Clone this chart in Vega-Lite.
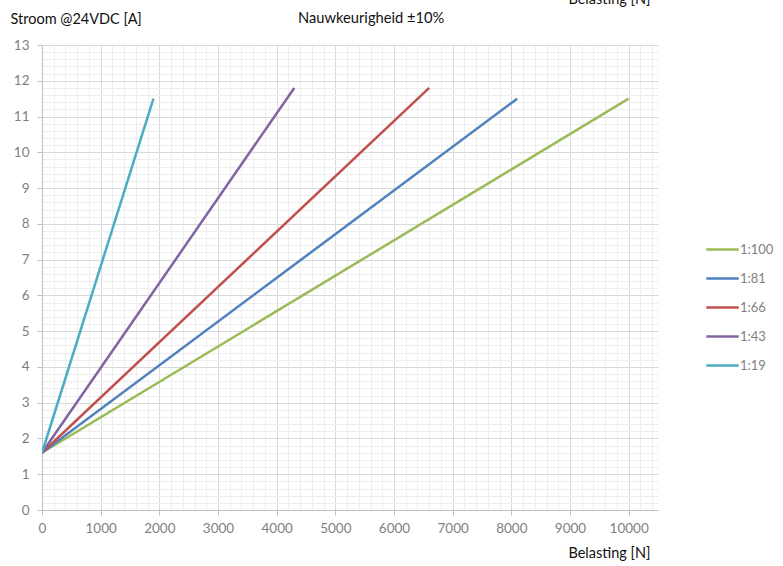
{
  "$schema": "https://vega.github.io/schema/vega-lite/v6.json",
  "autosize": "none",
  "width": 616,
  "height": 465,
  "padding": {"left": 42, "top": 45, "right": 125, "bottom": 56},
  "background": "white",
  "config": {
    "view": {"stroke": null},
    "font": "Lato",
    "axis": {"labelFont": "Lato", "titleFont": "Lato"}
  },
  "title": {
    "text": "Nauwkeurigheid ±10%",
    "anchor": "start",
    "frame": "group",
    "dx": 256,
    "dy": 47,
    "offset": 0,
    "baseline": "alphabetic",
    "font": "Lato",
    "fontSize": 14.7,
    "fontWeight": "normal",
    "color": "#111111"
  },
  "data": {
    "values": [
      {"ratio": "1:100", "F": 0, "I": 1.6},
      {"ratio": "1:100", "F": 10000, "I": 11.5},
      {"ratio": "1:81", "F": 0, "I": 1.6},
      {"ratio": "1:81", "F": 8100, "I": 11.5},
      {"ratio": "1:66", "F": 0, "I": 1.6},
      {"ratio": "1:66", "F": 6600, "I": 11.8},
      {"ratio": "1:43", "F": 0, "I": 1.6},
      {"ratio": "1:43", "F": 4300, "I": 11.8},
      {"ratio": "1:19", "F": 0, "I": 1.6},
      {"ratio": "1:19", "F": 1900, "I": 11.5}
    ]
  },
  "resolve": {"axis": {"x": "independent"}},
  "layer": [
    {
      "mark": {"type": "line", "strokeWidth": 2.5, "clip": true},
      "encoding": {
        "x": {
          "field": "F",
          "type": "quantitative",
          "scale": {"domain": [0, 10500], "nice": false, "zero": true},
          "axis": {
            "values": [0,200,400,600,800,1000,1200,1400,1600,1800,2000,2200,2400,2600,2800,3000,3200,3400,3600,3800,4000,4200,4400,4600,4800,5000,5200,5400,5600,5800,6000,6200,6400,6600,6800,7000,7200,7400,7600,7800,8000,8200,8400,8600,8800,9000,9200,9400,9600,9800,10000,10200,10400],
            "labelExpr": "datum.value % 1000 === 0 ? datum.value : ''",
            "labelFontSize": 13.5,
            "labelColor": "#7f7f7f",
            "labelPadding": 6,
            "labelFlush": false,
            "labelOverlap": false,
            "tickColor": "#bfbfbf",
            "tickSize": 5,
            "tickOpacity": {"condition": {"test": "datum.value % 1000 === 0", "value": 1}, "value": 0},
            "domainColor": "#bfbfbf",
            "domainWidth": 1,
            "grid": true,
            "gridColor": {"condition": {"test": "datum.value % 1000 === 0", "value": "#d9d9d9"}, "value": "#eeeeee"},
            "gridWidth": 1,
            "title": "Belasting [N]",
            "titleFont": "Lato",
            "titleFontSize": 14.5,
            "titleFontWeight": "normal",
            "titleColor": "#111111",
            "titleAlign": "right",
            "titleAnchor": "end",
            "titleBaseline": "alphabetic",
            "titleX": 608,
            "titleY": 47
          }
        },
        "y": {
          "field": "I",
          "type": "quantitative",
          "scale": {"domain": [0, 13], "nice": false},
          "axis": {
            "values": [0,0.2,0.4,0.6,0.8,1,1.2,1.4,1.6,1.8,2,2.2,2.4,2.6,2.8,3,3.2,3.4,3.6,3.8,4,4.2,4.4,4.6,4.8,5,5.2,5.4,5.6,5.8,6,6.2,6.4,6.6,6.8,7,7.2,7.4,7.6,7.8,8,8.2,8.4,8.6,8.8,9,9.2,9.4,9.6,9.8,10,10.2,10.4,10.6,10.8,11,11.2,11.4,11.6,11.8,12,12.2,12.4,12.6,12.8,13],
            "labelExpr": "abs(datum.value - round(datum.value)) < 0.001 ? round(datum.value) : ''",
            "labelFontSize": 13.5,
            "labelColor": "#7f7f7f",
            "labelPadding": 8,
            "labelFlush": false,
            "labelOverlap": false,
            "tickColor": "#bfbfbf",
            "tickSize": 5,
            "tickOpacity": {"condition": {"test": "abs(datum.value - round(datum.value)) < 0.001", "value": 1}, "value": 0},
            "domainColor": "#bfbfbf",
            "grid": true,
            "gridColor": {"condition": {"test": "abs(datum.value - round(datum.value)) < 0.001", "value": "#d9d9d9"}, "value": "#eeeeee"},
            "gridWidth": 1,
            "title": "Stroom @24VDC [A]",
            "titleFont": "Lato",
            "titleFontSize": 14.5,
            "titleFontWeight": "normal",
            "titleColor": "#111111",
            "titleAngle": 0,
            "titleAlign": "left",
            "titleAnchor": "start",
            "titleBaseline": "alphabetic",
            "titleX": -32,
            "titleY": -22
          }
        },
        "color": {
          "field": "ratio",
          "type": "nominal",
          "sort": ["1:100", "1:81", "1:66", "1:43", "1:19"],
          "scale": {
            "domain": ["1:100", "1:81", "1:66", "1:43", "1:19"],
            "range": ["#9BBB59", "#4F81BD", "#C0504D", "#8064A2", "#4BACC6"]
          },
          "legend": {
            "title": null,
            "orient": "none",
            "legendX": 663,
            "legendY": 187,
            "symbolType": "stroke",
            "symbolSize": 1050,
            "symbolStrokeWidth": 2.5,
            "labelFont": "Lato",
            "labelFontSize": 13,
            "labelColor": "#7f7f7f",
            "labelOffset": 0,
            "rowPadding": 4
          }
        }
      }
    },
    {
      "mark": {"type": "tick", "opacity": 0},
      "encoding": {
        "x": {
          "field": "F",
          "type": "quantitative",
          "axis": {
            "orient": "top",
            "labels": false,
            "ticks": false,
            "domain": false,
            "grid": false,
            "title": "Belasting [N]",
            "titleFont": "Lato",
            "titleFontSize": 14.5,
            "titleFontWeight": "normal",
            "titleColor": "#111111",
            "titleAlign": "right",
            "titleAnchor": "end",
            "titleBaseline": "alphabetic",
            "titleX": 608,
            "titleY": -42
          }
        }
      }
    }
  ]
}
